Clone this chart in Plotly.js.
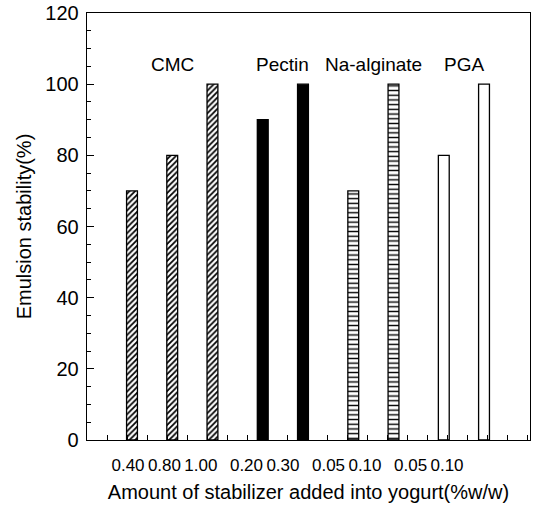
<!DOCTYPE html>
<html>
<head>
<meta charset="utf-8">
<script src="https://cdn.plot.ly/plotly-3.0.1.min.js"></script>
<style>html,body{margin:0;padding:0;background:#fff;}</style>
</head>
<body>
<div id="chart" style="width:535px;height:507px;"></div>
<script>
// ---- data ----
const groupNames = ['CMC', 'Pectin', 'Na-alginate', 'PGA'];
const cmcLabels = ['0.40', '0.80', '1.00'];
const cmcValues = [70, 80, 100];
const pectinLabels = ['0.20', '0.30'];
const pectinValues = [90, 100];
const alginateLabels = ['0.05', '0.10'];
const alginateValues = [70, 100];
const pgaLabels = ['0.05', '0.10'];
const pgaValues = [80, 100];

const groupLabels = [cmcLabels, pectinLabels, alginateLabels, pgaLabels];
const groupValues = [cmcValues, pectinValues, alginateValues, pgaValues];

// ---- layout helpers ----
const FAM = 'Liberation Sans, Arial, Helvetica, sans-serif';
const groupGap = 0.25;
const styles = [
  {color: '#ffffff', pattern: {shape: '/', size: 4, solidity: 0.45, fgcolor: '#000', bgcolor: '#fff'}},
  {color: '#000000'},
  {color: '#ffffff', pattern: {shape: '-', size: 4.7, solidity: 0.3, fgcolor: '#000', bgcolor: '#fff'}},
  {color: '#ffffff'}
];

const traces = [];
const allPos = [], allText = [], allVals = [];
const annotations = [];
let k = 0;
groupNames.forEach((name, g) => {
  const pos = groupLabels[g].map((_, i) => k + i + g * groupGap);
  k += groupLabels[g].length;
  pos.forEach((p, i) => { allPos.push(p); allText.push(groupLabels[g][i]); allVals.push(groupValues[g][i]); });
  const marker = Object.assign({line: {color: '#000', width: 1.3}}, styles[g]);
  traces.push({
    type: 'bar', x: pos, y: groupValues[g], width: 0.27, name: name,
    marker: marker, hoverinfo: 'skip', showlegend: false
  });
  const center = (pos[0] + pos[pos.length - 1]) / 2;
  annotations.push({
    x: center, y: 105.4, xref: 'x', yref: 'y', text: name, showarrow: false,
    font: {family: FAM, size: 19, color: '#000'},
    xanchor: 'center', yanchor: 'middle'
  });
});

// invisible trace to anchor the label axis
traces.push({
  type: 'scatter', x: allPos, y: allVals, xaxis: 'x2', yaxis: 'y',
  mode: 'markers', marker: {opacity: 0}, hoverinfo: 'skip', showlegend: false
});

const layout = {
  width: 535, height: 507,
  margin: {l: 87, r: 5, t: 13, b: 67},
  paper_bgcolor: '#fff', plot_bgcolor: '#fff',
  font: {family: FAM, size: 17, color: '#000'},
  showlegend: false,
  bargap: 0,
  xaxis: {
    range: [-1.1186, 9.893],
    showline: true, linecolor: '#000', linewidth: 1.3, mirror: true,
    ticks: 'inside', ticklen: 5, tickcolor: '#000', tickwidth: 1,
    tick0: -1.1186, dtick: 0.4972,
    showticklabels: false, showgrid: false, zeroline: false, fixedrange: true
  },
  xaxis2: {
    overlaying: 'x', side: 'bottom', anchor: 'y',
    range: [-1.1245, 11.026],
    tickmode: 'array', tickvals: allPos, ticktext: allText,
    ticks: '', showline: false, showgrid: false, zeroline: false,
    ticklabelstandoff: 13,
    tickfont: {family: FAM, size: 17, color: '#000'},
    title: {text: 'Amount of stabilizer added into yogurt(%w/w)', font: {family: FAM, size: 20, color: '#000'}, standoff: 10},
    fixedrange: true
  },
  yaxis: {
    range: [0, 120], dtick: 20, tick0: 0,
    showline: true, linecolor: '#000', linewidth: 1.3, mirror: true,
    ticks: 'inside', ticklen: 7, tickcolor: '#000', tickwidth: 1.2,
    minor: {dtick: 5, ticks: 'inside', ticklen: 4, tickcolor: '#000', tickwidth: 1},
    showgrid: false, zeroline: false,
    ticklabelstandoff: 3,
    tickfont: {family: FAM, size: 20, color: '#000'},
    title: {text: 'Emulsion stability(%)', font: {family: FAM, size: 20, color: '#000'}, standoff: 8},
    fixedrange: true
  },
  annotations: annotations
};

Plotly.newPlot('chart', traces, layout, {displayModeBar: false, staticPlot: true});
</script>
</body>
</html>
